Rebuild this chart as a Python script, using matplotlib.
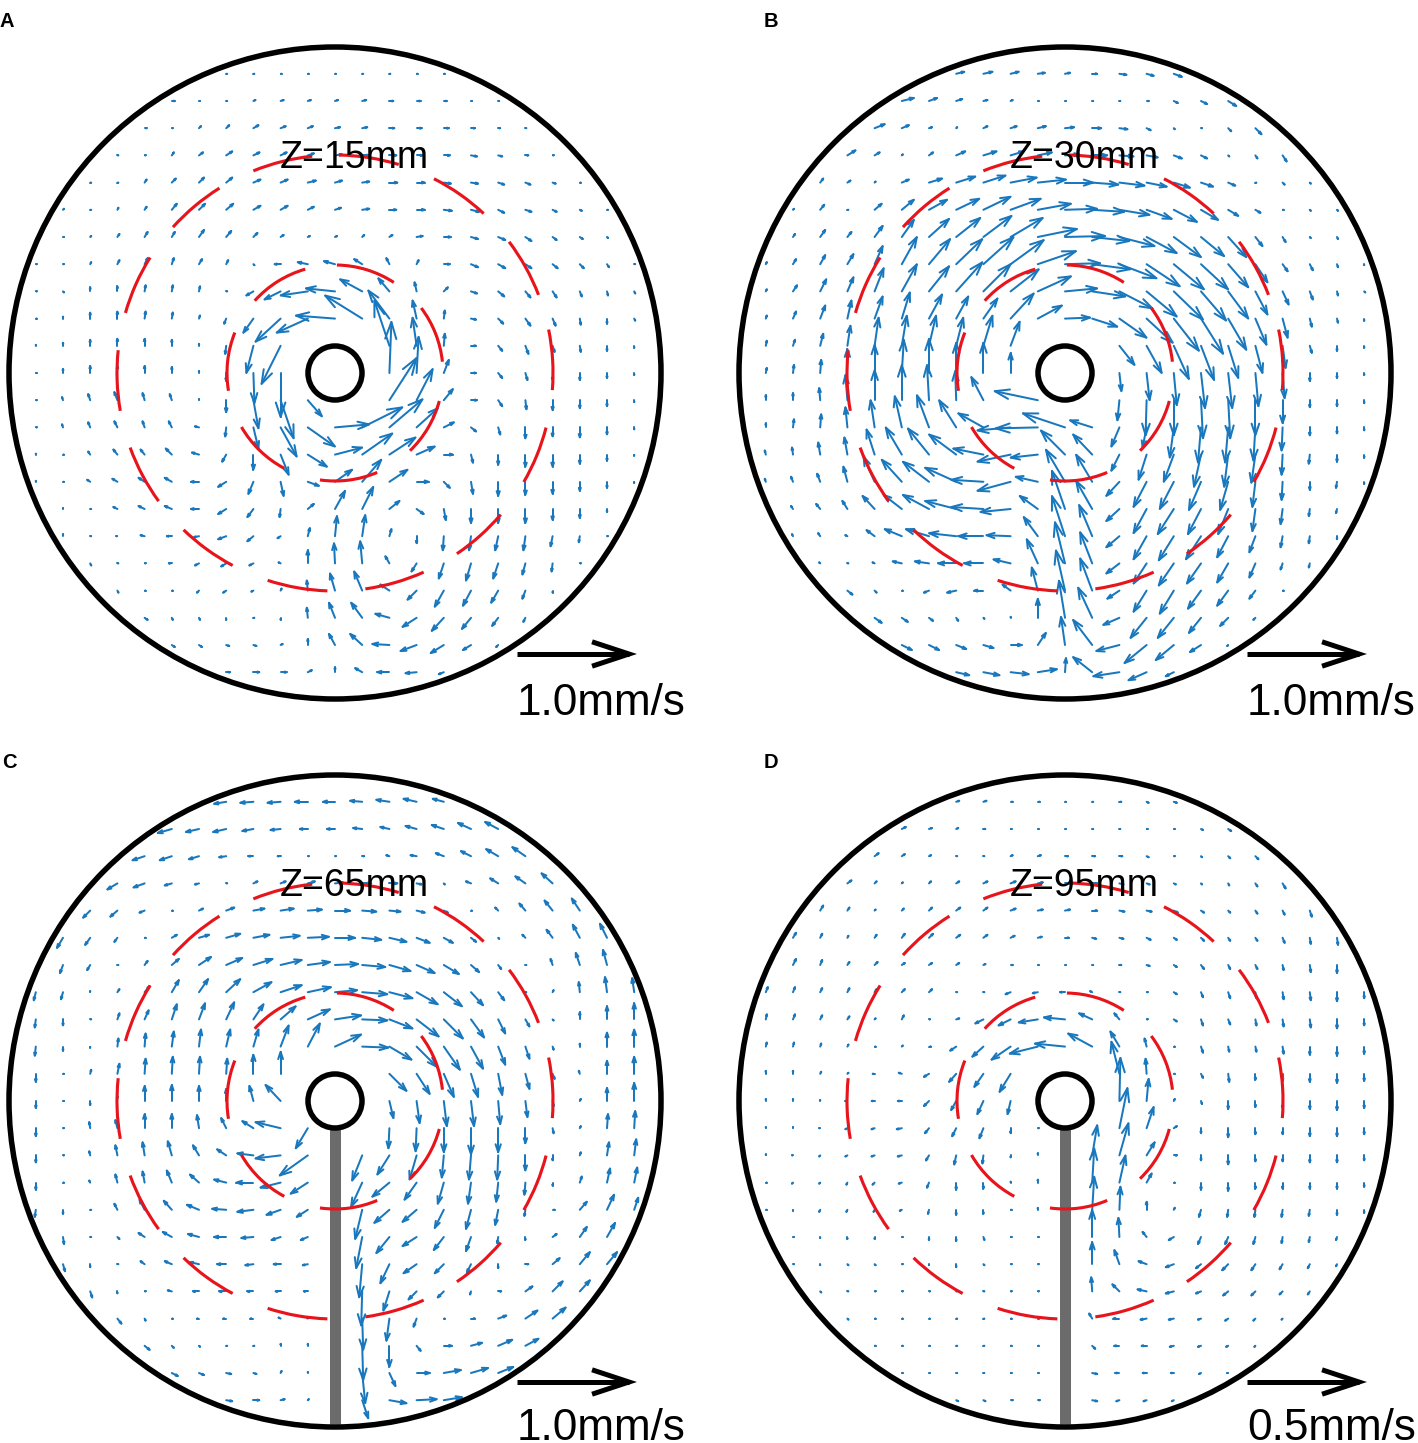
import matplotlib
matplotlib.use("Agg")
from matplotlib import pyplot as plt
from matplotlib.collections import LineCollection
from matplotlib.patches import Arc, Circle

plt.rcParams["font.family"] = ["Liberation Sans", "DejaVu Sans"]

W, H = 1418, 1443
GRID = 27.2
# half width of every grid row, from the top row down
HALF = [4, 6, 7, 8, 9, 10, 10, 11, 11, 11, 11, 11, 11, 11, 11, 11, 10, 10, 9, 8, 7, 6, 4]

# every row: dx, dy, dx, dy ..., 115 units is the reference arrow
FLOW_A = [
    [1,0,1,0,1,0,1,0,1,0,1,0,1,0,1,0,1,0],
    [3,0,1,0,1,0,2,1,3,1,3,1,3,1,4,1,4,0,4,0,3,0,1,0,1,0],
    [2,0,1,0,2,2,3,3,5,3,5,2,5,2,5,1,5,1,5,0,5,0,5,0,4,0,2,0,1,0],
    [1,0,1,0,2,3,4,3,6,4,6,3,6,3,6,2,7,1,7,0,7,0,6,0,6,0,6,-1,4,-1,3,0,1,0],
    [1,0,1,0,2,3,4,4,5,5,6,5,7,3,7,3,8,2,7,2,7,1,8,0,8,0,7,-1,7,-1,6,-2,5,-2,3,-1,1,0],
    [1,1,1,0,1,2,2,3,5,6,6,6,7,6,7,4,7,4,6,3,6,2,7,1,7,0,8,0,8,-1,8,-2,6,-3,6,-2,4,-2,2,-1,1,0],
    [1,0,1,1,2,3,3,5,3,5,5,7,5,6,4,4,3,2,2,1,2,1,2,2,3,2,6,1,7,0,7,-2,7,-3,6,-4,4,-3,3,-2,1,-1],
    [1,0,1,0,1,2,2,4,3,6,2,6,3,5,2,4,1,-1,-6,0,-10,2,-11,3,-8,5,-3,6,2,4,6,0,7,-3,7,-4,6,-4,5,-4,4,-4,2,-3,1,0],
    [1,0,1,-1,0,4,0,5,1,6,1,6,1,5,1,0,-7,-4,-16,-8,-27,-4,-29,3,-22,12,-11,13,-2,9,4,4,6,-2,6,-5,5,-6,4,-6,2,-5,1,-4,1,-2],
    [1,0,0,2,0,6,0,7,1,7,1,6,1,3,-2,-5,-10,-14,-25,-23,-31,-14,-39,3,-37,23,-21,28,-4,18,1,8,5,-1,5,-5,5,-7,3,-7,1,-6,0,-5,1,-2],
    [0,1,0,3,0,6,0,7,0,7,0,6,0,2,-1,-8,-7,-27,-19,-38,0,0,0,0,0,0,-15,45,-4,28,1,12,5,0,4,-5,3,-8,2,-6,1,-6,0,-5,0,-2],
    [1,0,0,4,0,7,0,7,0,7,0,6,0,2,0,-8,1,-30,0,-44,0,0,0,0,0,0,2,51,2,36,5,13,5,0,4,-5,2,-7,0,-7,0,-7,0,-5,0,-2],
    [1,0,-1,3,-2,6,-3,8,-2,7,-2,6,0,1,0,-12,5,-28,13,-38,14,-16,0,0,0,0,27,42,16,31,9,11,6,0,4,-6,1,-9,0,-10,0,-8,0,-6,0,-2],
    [1,0,-1,3,-2,5,-3,6,-2,6,-3,6,-4,1,-1,-9,5,-21,16,-29,27,-19,34,3,40,20,33,28,21,19,10,5,5,-4,2,-7,0,-11,0,-9,0,-10,0,-7,0,-2],
    [0,1,1,0,-2,3,-4,5,-4,5,-6,6,-7,2,-4,-7,0,-15,8,-20,19,-12,27,7,30,21,26,17,18,8,9,0,2,-8,0,-10,0,-12,0,-12,0,-9,0,-6,0,-1],
    [0,1,1,0,-3,2,-5,3,-6,4,-7,4,-8,0,-8,-5,-5,-12,3,-14,11,-4,17,12,19,22,18,12,12,0,6,-6,2,-12,0,-14,0,-13,0,-12,0,-9,0,-6,0,-1],
    [0,1,1,0,-4,2,-6,3,-7,3,-8,0,-8,-5,-6,-8,-1,-8,6,5,10,18,11,22,10,8,7,-5,2,-11,0,-14,0,-14,0,-14,0,-11,0,-9,0,-3],
    [0,2,1,0,-1,0,-4,1,-5,0,-5,-1,-8,-3,-6,-5,-3,-2,2,8,2,20,3,21,2,7,0,-7,-1,-14,-2,-14,-3,-14,-2,-14,-2,-10,-1,-6,1,0],
    [1,-2,1,0,1,0,-3,0,-4,-2,-5,-3,-4,-2,-2,1,0,13,-1,20,-2,22,-4,7,-5,-8,-5,-15,-5,-17,-5,-15,-3,-11,-1,-8,1,0],
    [1,-2,1,0,1,0,-2,-2,-3,-2,-2,-1,1,2,-1,10,-5,17,-8,19,-9,6,-9,-9,-9,-16,-8,-15,-7,-12,-3,-8,0,-2],
    [3,-2,1,-2,1,-2,0,-2,1,0,0,-2,-1,10,-6,15,-11,15,-14,4,-14,-9,-12,-13,-9,-11,-6,-8,-2,-4],
    [3,-2,3,-2,3,-1,3,-1,2,1,0,6,-6,11,-12,11,-17,1,-16,-6,-13,-8,-8,-5,-2,-2],
    [4,0,6,0,6,0,4,2,0,5,-7,4,-12,0,-11,-1,-5,-2],
]

FLOW_B = [
    [8,2,9,2,8,2,7,1,5,1,5,0,7,-1,7,-2,8,-3],
    [12,3,8,3,6,2,4,1,2,1,1,0,1,0,1,0,1,0,2,0,4,-2,6,-3,8,-5],
    [10,4,7,3,3,1,1,1,4,2,6,2,8,2,9,1,9,0,8,-1,4,-2,1,-1,1,0,3,-3,6,-6],
    [8,5,5,3,1,1,4,3,9,4,13,4,13,4,14,3,14,1,15,0,14,-1,11,-2,8,-3,6,-3,1,-1,2,-3,4,-6],
    [3,4,3,2,1,1,7,3,13,4,19,6,22,7,26,5,28,3,28,0,26,-2,25,-3,20,-4,16,-5,12,-4,7,-3,1,0,2,-2,1,-1],
    [1,1,4,5,1,0,7,6,12,10,18,10,23,11,27,13,30,11,33,6,32,1,32,-2,30,-5,25,-9,23,-12,17,-10,10,-6,5,-3,1,0,1,-1,1,-1],
    [2,3,5,7,4,5,8,11,12,17,20,18,24,19,28,21,32,19,39,8,40,1,37,-4,35,-9,30,-16,27,-20,23,-19,18,-20,7,-9,3,-5,1,-1,1,-2],
    [1,2,3,5,5,9,6,10,8,18,15,27,21,25,26,25,30,27,33,24,38,13,35,1,38,-5,37,-14,33,-22,30,-25,27,-25,20,-23,12,-18,5,-7,3,-6,1,-3,0,-1],
    [1,2,4,6,6,12,6,14,9,23,15,27,20,25,26,29,27,27,28,22,33,15,32,3,33,-5,33,-17,30,-25,29,-28,25,-29,20,-27,12,-23,6,-13,3,-8,1,-4,1,-1],
    [1,3,3,7,5,13,4,18,8,22,8,26,13,24,12,22,14,20,23,25,24,13,25,1,25,-8,27,-19,26,-24,25,-32,22,-35,18,-31,11,-26,5,-19,2,-8,1,-4,0,-2],
    [1,5,2,6,3,12,3,20,4,28,5,30,7,30,7,28,9,30,9,24,0,0,0,0,0,0,15,-19,15,-27,15,-33,13,-34,10,-32,7,-27,3,-22,2,-7,0,-5,0,-2],
    [1,5,1,8,1,13,0,24,0,28,2,33,0,34,0,30,0,30,0,20,0,0,0,0,0,0,2,-18,3,-27,3,-32,4,-35,4,-35,3,-33,2,-25,0,-8,0,-5,0,-2],
    [0,5,0,7,-1,12,-2,25,0,30,0,35,-2,35,-1,29,-12,23,0,0,-43,9,0,0,0,0,-2,-20,-1,-35,0,-35,2,-38,2,-38,0,-35,0,-23,0,-7,0,-6,0,-3],
    [0,4,1,8,1,13,-2,20,-4,27,-7,31,-12,32,-17,27,-25,14,-33,-3,-42,-1,-42,14,-22,7,-8,-19,-4,-20,-4,-30,-3,-35,-3,-35,-2,-33,-1,-23,0,-8,0,-6,0,-3],
    [-1,4,-1,7,-2,12,-3,17,-8,25,-16,27,-21,26,-27,20,-30,6,-33,-7,-27,-3,-24,24,-19,20,-8,-16,-8,-25,-10,-27,-7,-32,-4,-32,-4,-28,-1,-20,-1,-9,0,-7,0,-3],
    [-1,3,-2,5,-3,8,-4,15,-11,25,-20,22,-26,20,-31,14,-32,2,-33,-9,-22,5,-19,32,-16,27,-13,-14,-13,-25,-14,-27,-12,-28,-8,-28,-3,-25,-1,-18,0,-8,-1,-6,0,-2],
    [-2,3,-4,5,-5,8,-12,13,-18,14,-26,14,-31,8,-32,2,-30,-3,-18,13,-13,38,-16,28,-13,-12,-13,-24,-16,-25,-13,-25,-10,-25,-3,-22,-2,-15,-1,-7,-1,-4],
    [-1,2,-2,3,-2,1,-8,6,-17,7,-23,7,-27,3,-25,0,-24,1,-14,19,-13,40,-13,31,-13,-11,-13,-23,-15,-24,-15,-23,-11,-21,-6,-16,-2,-11,-1,-7,0,-3],
    [-1,1,1,0,-2,1,-9,2,-14,2,-18,0,-19,0,-17,4,-11,24,-10,41,-12,31,-13,-10,-13,-20,-15,-22,-14,-20,-11,-19,-6,-14,-2,-6,-1,-4],
    [5,-4,2,-2,1,0,-5,-2,-9,-2,-9,0,-8,6,-6,23,-9,40,-12,32,-12,-8,-13,-21,-14,-23,-13,-18,-11,-15,-6,-8,1,0],
    [7,-5,6,-4,4,-3,2,-3,1,-1,0,1,0,19,-6,37,-14,30,-16,-7,-16,-20,-16,-20,-12,-15,-8,-8,-2,-2],
    [10,-5,10,-5,10,-4,10,-3,11,0,8,12,-4,28,-19,25,-23,-6,-22,-18,-18,-15,-11,-7,-1,-1],
    [13,-3,16,-3,18,-2,19,3,1,14,-19,15,-26,-4,-18,-8,-8,-4],
]

FLOW_C = [
    [-12,-2,-13,-1,-13,-1,-13,0,-12,0,-12,1,-13,2,-13,3,-11,3],
    [-14,-4,-13,-3,-13,-3,-11,-2,-10,-1,-8,0,-8,0,-9,1,-9,2,-11,3,-12,4,-13,6,-13,7],
    [-12,-4,-12,-4,-10,-3,-7,-1,-5,0,-3,0,1,0,1,0,2,0,-3,1,-6,1,-8,3,-10,5,-12,7,-13,9],
    [-10,-6,-11,-4,-7,-2,-4,-1,1,0,4,2,5,2,7,2,8,1,9,0,8,0,5,-1,1,-1,-5,2,-8,5,-10,7,-11,10],
    [-7,-7,-7,-6,-5,-2,1,0,4,2,8,3,11,2,13,2,14,1,15,0,14,-1,11,-1,8,-2,4,-2,1,0,-3,3,-6,7,-8,10,-8,12],
    [-6,-10,-5,-7,-3,-4,1,0,5,3,10,3,14,4,16,3,19,2,21,1,20,0,19,-2,17,-4,13,-5,9,-5,5,-4,1,-1,-3,3,-6,8,-7,13,-7,14],
    [-3,-8,-3,-5,1,0,3,4,7,6,12,8,16,7,19,6,21,5,22,3,23,1,23,-2,21,-6,18,-8,15,-9,8,-7,3,-4,1,0,-2,6,-4,12,-4,15],
    [-2,-8,-2,-7,0,1,2,3,5,6,7,12,9,13,14,13,18,10,21,7,23,5,22,2,25,-2,23,-6,21,-12,18,-14,12,-13,6,-8,1,0,1,2,-1,10,-2,15,-2,14],
    [-1,-8,0,-6,1,0,2,6,4,9,5,15,6,16,8,17,10,15,15,13,22,10,26,4,25,-1,23,-9,22,-17,19,-19,13,-18,7,-14,4,-7,1,-1,0,7,0,13,0,16],
    [-1,-9,0,-4,0,-1,1,8,1,13,2,15,2,17,4,17,5,17,8,21,12,23,26,12,26,-1,22,-13,20,-20,16,-23,12,-22,7,-18,4,-12,1,-3,0,3,0,14,0,17],
    [0,-8,1,0,1,4,2,10,1,15,1,17,1,17,1,15,0,19,0,22,0,0,0,0,0,0,17,-17,13,-20,10,-23,7,-23,4,-21,4,-15,2,-5,-1,3,0,13,0,17],
    [0,-7,1,0,0,-4,0,5,0,15,0,16,0,15,0,12,-4,15,-15,16,0,0,0,0,0,0,4,-17,3,-22,3,-25,3,-25,2,-23,2,-16,1,-5,1,2,0,13,0,18],
    [0,-8,1,0,-1,6,-2,8,0,14,0,14,-2,13,-5,10,-11,7,-25,6,-12,-20,0,0,0,0,-1,-20,-1,-23,0,-24,0,-26,0,-24,0,-15,1,-5,1,2,1,14,1,17],
    [0,-7,1,0,-1,4,-2,10,-2,13,-4,14,-6,10,-9,6,-16,2,-25,-3,-28,-20,0,0,-10,-25,-12,-19,-7,-24,-2,-22,-2,-24,-1,-24,0,-15,0,-5,1,3,2,13,2,16],
    [0,-7,1,0,-1,2,-2,8,-2,11,-5,12,-9,8,-12,3,-17,0,-20,-5,-17,-11,0,0,-11,-24,-17,-14,-12,-17,-6,-21,-3,-21,-2,-19,-1,-12,0,-3,2,6,3,14,3,15],
    [-1,-7,0,-4,1,0,-3,6,-5,10,-8,9,-12,5,-14,1,-16,-2,-14,-5,-11,-7,0,0,-7,-29,-15,-13,-14,-12,-9,-18,-5,-19,-3,-15,-1,-6,2,0,7,8,7,15,4,12],
    [1,-7,1,0,2,-2,-6,4,-9,5,-11,3,-12,0,-12,-1,-9,-3,-7,-3,0,0,-6,-31,-13,-16,-14,-9,-10,-13,-5,-14,-1,-6,0,-3,4,3,7,10,8,14],
    [2,-7,0,-3,1,0,-4,3,-7,3,-9,2,-9,0,-8,-1,-7,0,-5,-1,0,0,-3,-33,-9,-19,-13,-9,-9,-9,-4,-8,0,-4,3,0,7,6,10,12,10,12],
    [2,-6,0,-2,1,0,-4,1,-6,0,-7,0,-6,0,-5,0,-4,0,0,0,-1,-34,-6,-19,-8,-8,-6,-6,-1,-3,3,0,7,5,10,10,10,11],
    [4,-5,1,-2,1,0,-2,0,-3,0,-3,0,-2,1,-1,1,0,0,1,-31,-3,-22,-3,-8,1,0,4,0,8,3,12,8,13,11],
    [5,-4,2,-2,1,-1,1,0,1,0,0,2,0,2,0,0,1,-34,0,-21,4,-5,8,0,11,3,14,6,13,7],
    [6,-3,5,-2,5,-1,3,-1,1,2,0,1,0,0,3,-30,6,-13,13,0,17,3,17,5,15,6],
    [6,-1,6,0,4,1,1,1,0,0,6,-18,17,-3,20,1,18,3],
]

FLOW_D = [
    [3,1,3,1,2,0,2,0,1,0,1,0,2,0,2,-1,3,-1],
    [4,2,3,1,2,1,2,0,1,0,1,0,1,0,1,0,1,0,1,0,1,0,2,-1,3,-2],
    [4,3,3,2,2,1,1,0,1,0,2,1,3,1,3,0,3,0,3,0,2,-1,1,0,1,-1,2,-2,3,-3],
    [4,3,2,2,1,1,2,2,3,2,4,2,5,2,5,1,5,0,5,0,4,-1,3,-1,2,-1,1,-1,1,-2,2,-3,3,-5],
    [3,5,2,3,1,1,2,2,3,3,4,3,4,3,5,2,5,1,5,1,5,0,5,-1,5,-1,4,-2,3,-2,2,-2,2,-3,2,-4,2,-6],
    [3,5,2,4,1,2,2,3,3,4,4,4,4,3,4,3,4,2,4,1,4,0,4,-1,4,-1,4,-2,3,-2,3,-3,2,-3,2,-3,2,-5,1,-6,1,-7],
    [3,6,2,5,2,3,3,3,3,2,3,2,3,2,2,1,2,0,1,0,1,0,1,0,2,0,3,-1,3,-2,3,-4,2,-4,2,-4,1,-5,1,-7,0,-8],
    [2,5,2,5,2,4,2,4,2,3,3,3,3,3,1,0,1,0,-5,-2,-5,-1,-5,0,-2,1,1,0,1,0,3,-2,2,-5,2,-6,1,-6,1,-7,1,-8,0,-9,0,-6],
    [1,5,2,5,2,4,2,3,1,1,2,4,1,0,3,1,-8,-4,-12,-6,-19,-3,-21,2,-13,6,-5,6,1,0,3,-2,2,-6,2,-5,1,-6,1,-7,1,-8,0,-9,0,-6],
    [1,4,1,4,1,3,1,2,1,0,1,1,2,0,-6,-4,-11,-10,-19,-13,-28,-7,-30,3,-24,13,-9,15,-2,8,1,0,2,-6,1,-5,1,-5,1,-7,0,-8,0,-9,0,-7],
    [0,3,0,3,1,2,1,1,-2,0,-3,1,-5,-3,-7,-8,-9,-13,-11,-18,0,0,0,0,0,0,-8,32,-1,15,1,0,2,-4,1,-8,0,-6,0,-7,0,-8,0,-9,0,-7],
    [0,2,0,2,0,1,-2,0,-3,0,-4,0,-5,-5,-5,-9,-6,-13,-3,-13,0,0,0,0,0,0,1,43,2,22,1,2,1,-3,0,-8,0,-6,0,-7,0,-8,0,-9,0,-7],
    [0,1,0,1,-1,0,-2,-1,-3,-1,-5,-1,-4,-5,-4,-8,-4,-10,0,-5,1,0,0,0,0,0,8,40,7,21,3,2,0,-5,0,-9,0,-6,0,-6,0,-8,0,-8,0,-6],
    [0,1,-1,0,-1,-1,-2,-1,-3,-1,-4,-1,-3,-5,-2,-9,-1,-8,0,-2,0,2,0,0,5,30,9,32,8,13,3,0,0,-5,0,-9,0,-6,0,-6,0,-7,0,-7,0,-5],
    [1,0,-1,-1,-1,-1,-1,-2,-2,-2,-3,-1,-2,-5,0,-7,0,-6,0,1,0,3,0,0,2,34,6,27,5,9,1,0,0,-7,0,-8,0,-6,0,-6,0,-6,0,-6,0,-4],
    [1,0,0,-1,-1,-2,-1,-2,-1,-2,-2,-1,-1,-4,0,-5,0,-4,1,0,0,2,0,0,2,33,1,23,0,8,1,2,-2,-7,-1,-7,-1,-7,-1,-7,-1,-6,0,-5,0,-3],
    [1,0,0,-1,0,-2,0,-2,1,0,0,-3,0,-4,1,-3,1,0,1,0,0,0,0,27,-1,19,-4,5,-5,-3,-3,-7,-3,-7,-2,-7,-1,-6,-1,-5,-1,-3],
    [1,0,0,-1,1,-1,1,-1,1,0,0,-1,0,-3,1,-1,1,0,1,0,0,0,0,22,-5,14,-8,3,-8,-3,-5,-4,-6,-6,-4,-6,-3,-5,-2,-4,-1,-2],
    [1,-1,1,0,1,0,1,0,1,0,1,0,1,0,1,0,1,0,0,0,-1,14,-7,7,-9,2,-8,-2,-5,-2,-5,-4,-4,-4,-3,-3,-2,-3],
    [1,-1,1,0,1,0,1,0,1,0,1,0,1,0,1,0,0,0,-3,5,-6,0,-6,-1,-5,-1,-3,-1,-3,-2,-2,-2,-1,-1],
    [1,0,1,0,1,0,1,0,1,0,1,0,1,0,0,0,3,-3,-5,0,-5,0,-4,-1,-3,-1,-2,-1,-1,-1],
    [1,0,1,0,1,0,1,0,1,0,1,0,0,0,5,-1,-4,0,-4,0,-3,0,-2,-1,-1,0],
    [2,-1,2,-1,2,0,2,0,0,0,5,-1,-3,-1,-3,-1,-2,-1],
]

OUTER_ARCS = [(148, 164), (122, 138), (96, 112), (73, 89), (47, 63), (21, 37), (-4.5, 11.5),
              (-30, -14.5), (-56, -40.5), (-82, -66), (-108, -92), (-134, -118), (-160, -144), (-186, -170)]
INNER_ARCS = [(106, 138), (57, 89), (6, 37), (-46, -15), (-98, -67), (-150, -118), (158, 189.5)]

PANELS = ["A", "B", "C", "D"]
CENTERS = [(335, 373), (1065, 373), (335, 1101), (1065, 1101)]
HEIGHTS = ["Z=15mm", "Z=30mm", "Z=65mm", "Z=95mm"]
KEY_TEXT = ["1.0mm/s", "1.0mm/s", "1.0mm/s", "0.5mm/s"]
HAS_BAR = [False, False, True, True]
FLOWS = [FLOW_A, FLOW_B, FLOW_C, FLOW_D]
LETTER_POS = [(0, 27), (764, 27), (2, 768), (764, 768)]
KEY_BASE = [-342, -342, -339, -339]

BLUE = "#1877bd"
RED = "#e8141c"
px = 0.72  # one image pixel in points


def arrow_lines(x, y, u, v):
    tx, ty = x + u, y + v
    return [
        [(x, y), (tx, ty)],
        [(tx - 0.33 * (u + 0.33 * v), ty - 0.33 * (v - 0.33 * u)), (tx, ty),
         (tx - 0.33 * (u - 0.33 * v), ty - 0.33 * (v + 0.33 * u))],
    ]


bad = []
for name, flow in zip(PANELS, FLOWS):
    for i, row in enumerate(flow):
        if len(row) != 2 * (2 * HALF[i] + 1):
            bad.append((name, i, len(row) // 2, 2 * HALF[i] + 1))
if bad:
    raise ValueError(f"row lengths {bad}")

fig = plt.figure(figsize=(W / 100, H / 100), dpi=100)

for p in range(4):
    cx, cy = CENTERS[p]
    ax = fig.add_axes([(cx - 365) / W, 1 - (cy + 365) / H, 730 / W, 730 / H])
    ax.set_xlim(-365, 365)
    ax.set_ylim(-365, 365)
    ax.axis("off")
    ax.patch.set_alpha(0)

    segs = []
    for i, row in enumerate(FLOWS[p]):
        y = (11 - i) * GRID
        for n in range(len(row) // 2):
            u, v = row[2 * n], row[2 * n + 1]
            if u == 0 and v == 0:
                continue
            segs += arrow_lines((n - HALF[i]) * GRID, y, u, v)
    ax.add_collection(LineCollection(segs, colors=BLUE, linewidths=2.0 * px, capstyle="round", zorder=2))

    if HAS_BAR[p]:
        ax.plot([0, 0], [-27, -323], color="#6b6b6b", lw=11 * px, solid_capstyle="butt", zorder=1)

    for t1, t2 in OUTER_ARCS:
        ax.add_patch(Arc((0, 0), 436, 436, theta1=t1, theta2=t2, color=RED, lw=3.1 * px, zorder=3))
    for t1, t2 in INNER_ARCS:
        ax.add_patch(Arc((0, 0), 216, 216, theta1=t1, theta2=t2, color=RED, lw=3.1 * px, zorder=3))

    ax.add_patch(Circle((0, 0), 326, fill=False, ec="black", lw=5.5 * px, zorder=4))
    ax.add_patch(Circle((0, 0), 27, fc="white", ec="black", lw=5.5 * px, zorder=4))

    for seg in arrow_lines(182, -281, 112, 0):
        xs, ys = zip(*seg)
        ax.plot(xs, ys, color="black", lw=5 * px, solid_capstyle="butt", solid_joinstyle="miter", zorder=4)

    ax.text(19, 215, HEIGHTS[p], fontsize=27, ha="center", va="center", color="black", zorder=5)
    ax.text(182, KEY_BASE[p], KEY_TEXT[p], fontsize=31.8, ha="left", va="baseline", color="black", zorder=5)

    fig.text(LETTER_POS[p][0] / W, 1 - LETTER_POS[p][1] / H, PANELS[p], fontsize=14.5,
             fontweight="bold", ha="left", va="baseline")

fig.savefig("out.png", dpi=100)
